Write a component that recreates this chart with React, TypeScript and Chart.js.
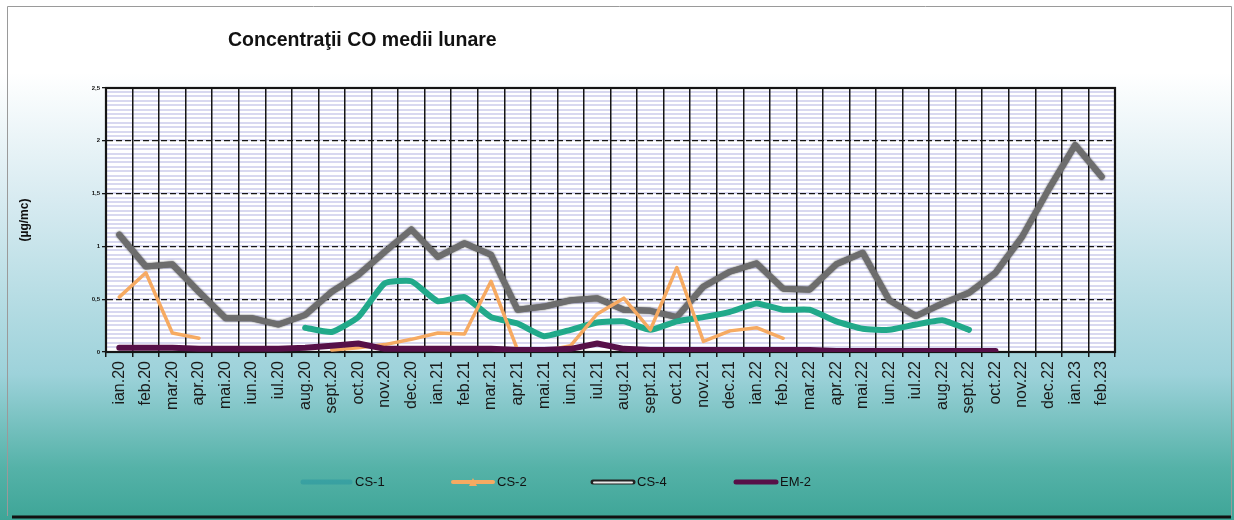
import React, { useEffect, useRef } from 'react';
import { Chart, registerables } from 'chart.js';

Chart.register(...registerables);

const months = [
  'ian.20', 'feb.20', 'mar.20', 'apr.20', 'mai.20', 'iun.20', 'iul.20', 'aug.20', 'sept.20', 'oct.20', 'nov.20', 'dec.20',
  'ian.21', 'feb.21', 'mar.21', 'apr.21', 'mai.21', 'iun.21', 'iul.21', 'aug.21', 'sept.21', 'oct.21', 'nov.21', 'dec.21',
  'ian.22', 'feb.22', 'mar.22', 'apr.22', 'mai.22', 'iun.22', 'iul.22', 'aug.22', 'sept.22', 'oct.22', 'nov.22', 'dec.22',
  'ian.23', 'feb.23',
];

const cs1: (number | null)[] = [
  null, null, null, null, null, null, null, 0.23, 0.19, 0.33, 0.65, 0.67,
  0.48, 0.52, 0.33, 0.27, 0.15, 0.21, 0.28, 0.29, 0.21, 0.29, 0.33, 0.38,
  0.46, 0.40, 0.40, 0.29, 0.22, 0.21, 0.26, 0.30, 0.21, null, null, null,
  null, null,
];

const cs2: (number | null)[] = [
  0.52, 0.75, 0.18, 0.13, null, null, null, null, 0.02, 0.04, 0.07, 0.12,
  0.18, 0.17, 0.67, 0.02, 0.01, 0.06, 0.36, 0.51, 0.21, 0.80, 0.10, 0.20,
  0.23, 0.13, null, null, null, null, null, null, null, null, null, null,
  null, null,
];

const cs4: (number | null)[] = [
  1.11, 0.81, 0.83, 0.57, 0.32, 0.32, 0.26, 0.35, 0.57, 0.73, 0.95, 1.16,
  0.90, 1.03, 0.92, 0.40, 0.43, 0.49, 0.51, 0.40, 0.39, 0.33, 0.62, 0.76,
  0.84, 0.60, 0.59, 0.83, 0.94, 0.49, 0.34, 0.46, 0.56, 0.75, 1.09, 1.54,
  1.96, 1.66,
];

const em2: (number | null)[] = [
  0.04, 0.04, 0.04, 0.03, 0.03, 0.03, 0.03, 0.04, 0.06, 0.08, 0.03, 0.03,
  0.03, 0.03, 0.03, 0.02, 0.02, 0.03, 0.08, 0.03, 0.02, 0.02, 0.02, 0.02,
  0.02, 0.02, 0.02, 0.01, 0.01, 0.01, 0.01, 0.01, 0.01, 0.01, null, null,
  null, null,
];

const yTicks = [0, 0.5, 1, 1.5, 2, 2.5];
const seriesNames = ['CS-1', 'CS-2', 'CS-4', 'EM-2'];
const titleText = 'Concentraţii CO medii lunare';
const yTitle = '(µg/mc)';

const FONT = '"Liberation Sans", Arial, sans-serif';

const backgroundPlugin = {
  id: 'bgPlugin',
  beforeDraw(chart: any) {
    const { ctx, width, height, chartArea } = chart;
    ctx.save();
    const g = ctx.createLinearGradient(0, 0, 0, height);
    g.addColorStop(0, '#ffffff');
    g.addColorStop(0.14, '#ffffff');
    g.addColorStop(0.38, '#d8ebf1');
    g.addColorStop(0.72, '#9dd2da');
    g.addColorStop(0.9, '#55b2a8');
    g.addColorStop(1, '#3ea597');
    ctx.fillStyle = g;
    ctx.fillRect(0, 0, width, height);
    // outer frame
    ctx.strokeStyle = '#9a9a9a';
    ctx.lineWidth = 1;
    ctx.beginPath();
    ctx.moveTo(7.5, 516);
    ctx.lineTo(7.5, 6.5);
    ctx.lineTo(1231.5, 6.5);
    ctx.lineTo(1231.5, 516);
    ctx.stroke();
    ctx.strokeStyle = '#111';
    ctx.lineWidth = 3;
    ctx.beginPath();
    ctx.moveTo(12, 517);
    ctx.lineTo(1231, 517);
    ctx.stroke();
    // plot area
    const { left, top, right, bottom } = chartArea;
    ctx.fillStyle = '#ffffff';
    ctx.fillRect(left, top, right - left, bottom - top);
    ctx.strokeStyle = 'rgba(178,178,226,0.5)';
    ctx.lineWidth = 2;
    for (let y = top + 4; y < bottom - 1; y += 4.4) {
      ctx.beginPath();
      ctx.moveTo(left, Math.round(y));
      ctx.lineTo(right, Math.round(y));
      ctx.stroke();
    }
    ctx.restore();
  },
  beforeDatasetsDraw(chart: any) {
    const { ctx, chartArea } = chart;
    const { left, top, right, bottom } = chartArea;
    ctx.save();
    ctx.strokeStyle = '#151515';
    ctx.lineWidth = 2.2;
    ctx.strokeRect(left, top, right - left, bottom - top);
    ctx.restore();
  },
  beforeDatasetDraw(chart: any, args: any) {
    const ds = chart.data.datasets[args.index];
    if (ds.label === 'CS-4') {
      chart.ctx.save();
      chart.ctx.shadowColor = 'rgba(0,0,0,0.75)';
      chart.ctx.shadowBlur = 2;
    }
  },
  afterDatasetDraw(chart: any, args: any) {
    const ds = chart.data.datasets[args.index];
    if (ds.label === 'CS-4') chart.ctx.restore();
  },
  afterDraw(chart: any) {
    const { ctx } = chart;
    ctx.save();
    // title
    ctx.fillStyle = '#111';
    ctx.font = `bold 19.5px ${FONT}`;
    ctx.textBaseline = 'middle';
    ctx.textAlign = 'left';
    ctx.fillText(titleText, 228, 41);
    // legend
    const xs = [303, 453, 593, 736];
    const y = 482;
    ctx.font = `13px ${FONT}`;
    chart.data.datasets.forEach((ds: any, i: number) => {
      const x0 = xs[i];
      ctx.lineCap = 'round';
      if (ds.label === 'CS-4') {
        ctx.strokeStyle = '#222';
        ctx.lineWidth = 5;
        ctx.beginPath();
        ctx.moveTo(x0, y);
        ctx.lineTo(x0 + 40, y);
        ctx.stroke();
        ctx.strokeStyle = '#e8e8e8';
        ctx.lineWidth = 2;
        ctx.beginPath();
        ctx.moveTo(x0 + 1, y + 0.5);
        ctx.lineTo(x0 + 39, y + 0.5);
        ctx.stroke();
      } else {
        ctx.strokeStyle = ds.label === 'CS-1' ? 'rgba(40,150,160,0.55)' : ds.borderColor;
        ctx.lineWidth = ds.label === 'CS-2' ? 4 : 5;
        ctx.beginPath();
        ctx.moveTo(x0, y);
        ctx.lineTo(x0 + (ds.label === 'CS-1' ? 47 : 40), y);
        ctx.stroke();
        if (ds.label === 'CS-2') {
          ctx.fillStyle = ds.borderColor;
          ctx.beginPath();
          ctx.moveTo(x0 + 20, y - 4);
          ctx.lineTo(x0 + 24, y + 4);
          ctx.lineTo(x0 + 16, y + 4);
          ctx.closePath();
          ctx.fill();
        }
      }
      ctx.fillStyle = '#111';
      ctx.textAlign = 'left';
      ctx.fillText(ds.label, x0 + (ds.label === 'CS-1' ? 52 : 44), y);
    });
    ctx.restore();
  },
};

export default function App() {
  const ref = useRef<HTMLCanvasElement | null>(null);

  useEffect(() => {
    document.body.style.margin = '0';
    const canvas = ref.current!;
    const chart = new Chart(canvas, {
      type: 'line',
      data: {
        labels: months,
        datasets: [
          {
            label: seriesNames[0],
            data: cs1,
            borderColor: '#21a98a',
            borderWidth: 6,
            pointRadius: 0,
            tension: 0.15,
            order: 2,
            borderCapStyle: 'round',
            borderJoinStyle: 'round',
          },
          {
            label: seriesNames[1],
            data: cs2,
            borderColor: '#f6aa62',
            borderWidth: 3.5,
            pointRadius: 0,
            tension: 0,
            order: 1,
            borderCapStyle: 'round',
            borderJoinStyle: 'round',
          },
          {
            label: seriesNames[2],
            data: cs4,
            borderColor: '#6d6d6d',
            borderWidth: 6,
            pointRadius: 0,
            tension: 0,
            order: 3,
            borderCapStyle: 'round',
            borderJoinStyle: 'round',
          },
          {
            label: seriesNames[3],
            data: em2,
            borderColor: '#571048',
            borderWidth: 6,
            pointRadius: 0,
            tension: 0,
            order: 0,
            borderCapStyle: 'round',
            borderJoinStyle: 'round',
          },
        ],
      },
      options: {
        responsive: false,
        animation: false,
        devicePixelRatio: 1,
        layout: { padding: { left: 8, top: 88, right: 119, bottom: 0 } },
        plugins: {
          legend: { display: false },
          title: { display: false },
          tooltip: { enabled: false },
        },
        scales: {
          x: {
            offset: true,
            grid: {
              color: '#151515',
              lineWidth: 1.5,
              offset: true,
              tickLength: 5,
            },
            border: { color: '#151515', width: 2 },
            ticks: {
              autoSkip: false,
              maxRotation: 90,
              minRotation: 90,
              padding: 4,
              color: '#1a1a1a',
              font: { family: FONT, size: 16 },
            },
            afterFit: (s: any) => {
              s.height = 168;
            },
          },
          y: {
            min: 0,
            max: 2.5,
            afterBuildTicks: (s: any) => {
              s.ticks = yTicks.map((v) => ({ value: v }));
            },
            grid: {
              color: '#151515',
              lineWidth: 1.3,
              tickLength: 4,
            },
            border: { color: '#151515', width: 2, dash: [6, 3] },
            ticks: {
              padding: 2,
              color: '#111',
              font: { family: FONT, size: 6, weight: 'bold' },
              callback: (v: any) => String(v).replace('.', ','),
            },
            title: {
              display: true,
              text: yTitle,
              color: '#111',
              font: { family: FONT, size: 12, weight: 'bold' },
              padding: { top: 9, bottom: 0 },
            },
            afterFit: (s: any) => {
              s.width = 98;
            },
          },
        },
      },
      plugins: [backgroundPlugin],
    } as any);
    return () => chart.destroy();
  }, []);

  return (
    <div style={{ width: 1234, height: 520 }}>
      <canvas ref={ref} width={1234} height={520} style={{ display: 'block' }} />
    </div>
  );
}
